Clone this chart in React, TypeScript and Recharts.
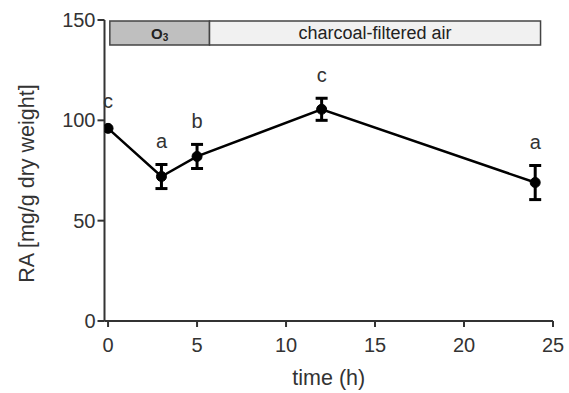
import { ComposedChart, Line, XAxis, YAxis, ErrorBar, LabelList, ReferenceArea, Label } from 'recharts';

// sampling times (h) and RA content, mean +/- error (error at t=0 hidden by the dot)
const times = [0, 3, 5, 12, 24];
const raMean = [96, 72, 82, 105.5, 69];
const raErr = [null, 6, 6, 5.5, 8.5];
const letters = ['c', 'a', 'b', 'c', 'a'];

const xTicks = [0, 5, 10, 15, 20, 25];
const yTicks = [0, 50, 100, 150];

// treatment bar along the top
const bandNames = ['O3', 'charcoal-filtered air'];
const bandFrom = [0.1, 5.7];
const bandTo = [5.7, 24.3];
const bandFills = ['#bfbfbf', '#f1f1f1'];
const bandLow = 137.5;
const bandHigh = 149.5;

const data = times.map((t, i) => ({
    time: t,
    ra: raMean[i],
    err: raErr[i],
    upper: raMean[i] + (raErr[i] ?? 2),
    letter: letters[i],
}));

const FONT = '"Liberation Sans", Arial, Helvetica, sans-serif';
const AXIS = '#333';

function bandLabel(props: any, name: string) {
    const { x, y, width, height } = props.viewBox;
    const cx = x + width / 2;
    const cy = y + height / 2;
    if (name === 'O3') {
        return (
            <text x={cx} y={cy} textAnchor="middle" dominantBaseline="central" fontSize={15} fontWeight="bold" fill="#222" fontFamily={FONT}>
                O<tspan fontSize={10} dy={4}>3</tspan>
            </text>
        );
    }
    return (
        <text x={cx} y={cy} textAnchor="middle" dominantBaseline="central" fontSize={18} fill="#222" fontFamily={FONT}>
            {name}
        </text>
    );
}

function yLabel(props: any) {
    const { y, height } = props.viewBox;
    const cy = y + height / 2 + 13;
    return (
        <text transform={`translate(27, ${cy}) rotate(-90)`} textAnchor="middle" dominantBaseline="central" fontSize={21.5} fill="#333" fontFamily={FONT}>
            RA [mg/g dry weight]
        </text>
    );
}

export default function App() {
    return (
        <div style={{ position: 'absolute', left: 0, top: 0, fontFamily: FONT }}>
            <ComposedChart width={569} height={393} data={data} margin={{ top: 20, right: 16, bottom: 0, left: 0 }}>
                {bandNames.map((name, i) => (
                    <ReferenceArea
                        key={name}
                        x1={bandFrom[i]}
                        x2={bandTo[i]}
                        y1={bandLow}
                        y2={bandHigh}
                        fill={bandFills[i]}
                        fillOpacity={1}
                        stroke="#444"
                        strokeWidth={1.5}
                        ifOverflow="visible"
                        label={(p: any) => bandLabel(p, name)}
                    />
                ))}
                <XAxis
                    dataKey="time"
                    type="number"
                    domain={[-0.2, 25]}
                    ticks={xTicks}
                    allowDataOverflow
                    height={72}
                    stroke={AXIS}
                    strokeWidth={2}
                    tickSize={6}
                    tickMargin={11}
                    tick={{ fontSize: 20, fill: '#333', fontFamily: FONT }}
                >
                    <Label value="time (h)" position="insideBottom" offset={8} fontSize={21.5} fill="#333" fontFamily={FONT} />
                </XAxis>
                <YAxis
                    type="number"
                    domain={[0, 150]}
                    ticks={yTicks}
                    width={104.5}
                    stroke={AXIS}
                    strokeWidth={2}
                    tickSize={7}
                    tickMargin={2}
                    tick={{ fontSize: 20, fill: '#333', fontFamily: FONT }}
                >
                    <Label content={yLabel} />
                </YAxis>
                <Line
                    dataKey="ra"
                    stroke="#000"
                    strokeWidth={2.5}
                    dot={{ r: 5, fill: '#000', stroke: '#000', strokeWidth: 1 }}
                    activeDot={false}
                    isAnimationActive={false}
                >
                    <ErrorBar dataKey="err" direction="y" width={6} stroke="#000" strokeWidth={3} />
                </Line>
                <Line dataKey="upper" stroke="none" dot={false} activeDot={false} isAnimationActive={false}>
                    <LabelList dataKey="letter" position="top" offset={16} fontSize={20} fill="#333" fontFamily={FONT} />
                </Line>
            </ComposedChart>
        </div>
    );
}
